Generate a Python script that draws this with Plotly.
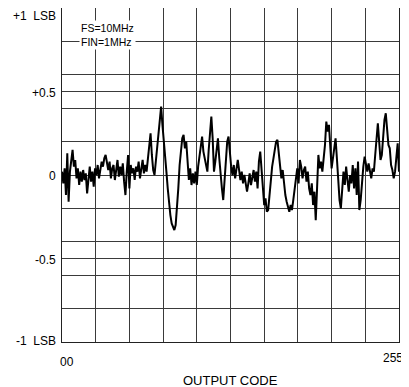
import plotly.graph_objects as go

codes = list(range(256))
dnl = [
    0.02, -0.05, 0.04, -0.12, 0.13, -0.16, 0.02, 0.10, 0.15, 0.05, 0.09, -0.02, 0.04, -0.06, 0.02, -0.04,
    0.03, -0.03, 0.01, -0.11, -0.02, 0.05, -0.04, 0.02, -0.07, 0.04, 0.00, 0.06, -0.02, 0.03, 0.08, 0.05,
    0.10, 0.12, 0.07, 0.03, 0.08, -0.02, 0.04, 0.06, -0.03, 0.02, 0.09, -0.01, 0.05, 0.00, 0.07, -0.04,
    -0.12, 0.02, 0.12, -0.08, 0.06, 0.01, 0.04, -0.03, 0.05, 0.02, 0.08, -0.02, 0.03, 0.09, 0.01, 0.06,
    0.02, 0.10, 0.15, 0.25, 0.12, 0.03, 0.00, 0.08, 0.18, 0.28, 0.36, 0.41, 0.30, 0.22, 0.14, 0.02,
    -0.08, -0.17, -0.24, -0.29, -0.31, -0.33, -0.30, -0.20, -0.08, 0.06, 0.17, 0.22, 0.24, 0.16, 0.20, 0.05,
    -0.03, 0.04, -0.06, 0.01, -0.05, 0.02, -0.06, 0.05, 0.12, 0.18, 0.23, 0.14, 0.10, 0.08, 0.02, 0.15,
    0.25, 0.35, 0.22, 0.02, 0.08, 0.16, 0.22, 0.10, -0.02, -0.08, -0.15, -0.03, 0.10, 0.20, 0.23, 0.12,
    0.05, 0.00, 0.06, -0.02, 0.04, 0.09, 0.03, -0.03, 0.02, -0.05, 0.00, -0.04, -0.10, -0.05, 0.01, -0.06,
    -0.02, 0.03, -0.04, 0.02, -0.08, 0.08, 0.14, 0.02, -0.12, -0.18, -0.14, -0.22, -0.21, -0.12, -0.02, 0.05,
    0.10, 0.15, 0.20, 0.21, 0.14, 0.08, -0.02, 0.03, -0.06, -0.12, -0.16, -0.19, -0.22, -0.18, -0.21, -0.15,
    -0.08, -0.02, 0.04, -0.05, 0.09, 0.05, -0.02, 0.03, 0.05, -0.04, 0.02, -0.08, -0.12, -0.05, -0.18, -0.10,
    -0.27, -0.08, 0.12, 0.04, 0.08, 0.02, 0.10, 0.18, 0.32, 0.26, 0.30, 0.12, 0.04, 0.10, 0.16, 0.22,
    0.10, -0.02, -0.15, -0.20, -0.05, 0.02, -0.06, 0.05, -0.03, -0.10, 0.00, -0.05, 0.06, -0.08, 0.04, -0.12,
    0.08, -0.21, -0.15, -0.02, 0.05, 0.11, 0.06, 0.02, 0.07, 0.03, -0.02, 0.04, 0.02, 0.12, 0.25, 0.31,
    0.20, 0.09, 0.12, 0.22, 0.33, 0.37, 0.25, 0.18, 0.16, 0.06, 0.03, -0.02, 0.02, 0.12, 0.19, 0.02,
]

y_major = [-1, -0.5, 0, 0.5, 1]
y_major_text = ["-1&nbsp;&nbsp;LSB", "-0.5", "0", "+0.5", "+1&nbsp;&nbsp;LSB"]
y_minor = [-0.8, -0.6, -0.4, -0.2, 0.2, 0.4, 0.6, 0.8]
x_major = [0, 255]
x_major_text = ["00", "255"]
x_minor = [25.5 * k for k in range(1, 10)]
notes = ["FS=10MHz", "FIN=1MHz"]
x_title = "OUTPUT CODE"

FONT = "Liberation Sans, Arial, sans-serif"
GRID = "#3a3a3a"

fig = go.Figure()
fig.add_trace(go.Scatter(x=codes, y=dnl, mode="lines",
                         line=dict(color="black", width=2), hoverinfo="skip"))

# The page body adds an 8px margin, so the figure is sized 8px smaller
fig.update_layout(
    width=401, height=379,
    margin=dict(l=54, r=10, t=0, b=45, autoexpand=False),
    paper_bgcolor="white", plot_bgcolor="white",
    showlegend=False,
    font=dict(family=FONT, size=12, color="black"),
    xaxis=dict(
        range=[0, 255], showticklabels=False, automargin=False,
        showgrid=False, zeroline=False, ticks="", showline=True, mirror=True,
        linecolor="#222", linewidth=1.2,
        minor=dict(tickvals=x_minor, showgrid=True, gridcolor=GRID, gridwidth=1, ticks=""),
    ),
    yaxis=dict(
        range=[-1, 1], tickvals=y_major, showticklabels=False, automargin=False,
        showgrid=True, gridcolor=GRID, gridwidth=1, zeroline=False, ticks="",
        showline=True, mirror=True, linecolor="#222", linewidth=1.2,
        minor=dict(tickvals=y_minor, showgrid=True, gridcolor=GRID, gridwidth=1, ticks=""),
    ),
)

# y tick labels, at their data positions
for yv, txt in zip(y_major, y_major_text):
    shift = -8 if yv == 1 else (1 if yv == -1 else -1)
    fig.add_annotation(xref="paper", yref="y", x=0, y=yv, xanchor="right", yanchor="middle",
                       xshift=-4, yshift=shift, text=txt, showarrow=False, font=dict(size=12))

# x tick labels, at their data positions, nudged inward like the original
for xv, txt, xs, ys in zip(x_major, x_major_text, [5, -6], [-20, -16]):
    fig.add_annotation(xref="x", yref="paper", x=xv, y=0, yshift=ys, xshift=xs,
                       text=txt, showarrow=False, yanchor="middle", font=dict(size=12))

fig.add_annotation(xref="paper", yref="paper", x=0.5, y=0, yshift=-38, yanchor="middle",
                   text=x_title, showarrow=False, font=dict(size=13))

fig.add_annotation(xref="paper", yref="paper", x=0.05, y=0.965, xanchor="left", yanchor="top",
                   text="<br>".join(notes), showarrow=False, align="left",
                   bgcolor="white", borderpad=1, font=dict(size=10.5))

fig.write_html("out.html")
